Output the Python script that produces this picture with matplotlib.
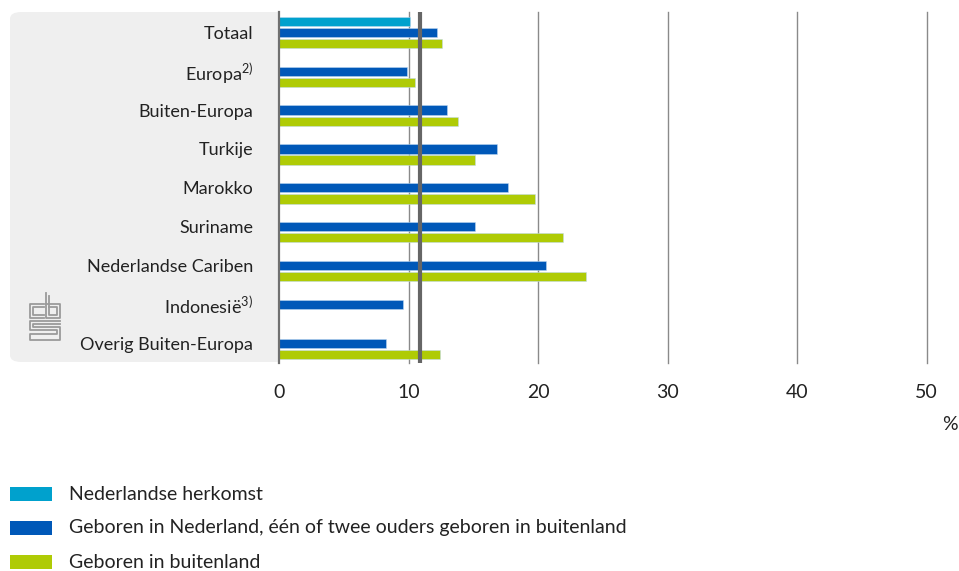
import matplotlib
matplotlib.use("Agg")
import matplotlib.pyplot as plt
from matplotlib.patches import FancyBboxPatch, Rectangle
import numpy as np

plt.rcParams['font.family'] = ['Lato', 'DejaVu Sans']
plt.rcParams['mathtext.fontset'] = 'custom'
plt.rcParams['mathtext.rm'] = 'Lato'

categories = ["Totaal", "Europa$^{\\mathrm{2)}}$", "Buiten-Europa", "Turkije", "Marokko",
              "Suriname", "Nederlandse Cariben", "Indonesië$^{\\mathrm{3)}}$", "Overig Buiten-Europa"]
nederlandse = [10.15, None, None, None, None, None, None, None, None]
geboren_nl = [12.2, 9.9, 13.0, 16.8, 17.7, 15.1, 20.6, 9.6, 8.3]
geboren_buitenland = [12.6, 10.5, 13.8, 15.1, 19.8, 21.9, 23.7, None, 12.4]
reference_value = 10.9
xticks = [0, 10, 20, 30, 40, 50]
series_labels = ["Nederlandse herkomst",
                 "Geboren in Nederland, één of twee ouders geboren in buitenland",
                 "Geboren in buitenland"]
colors = ["#00A1CD", "#0058B8", "#AFCB05"]

W, H = 959, 571
FS = 14
fig = plt.figure(figsize=(W / 100, H / 100), dpi=100)

# background panel
panel = FancyBboxPatch((10 / W, 1 - 362 / H), (279 - 10) / W, (362 - 12) / H,
                       boxstyle="round,pad=0,rounding_size=0.012",
                       transform=fig.transFigure, facecolor="#efefef", edgecolor="none", zorder=-2)
fig.patches.append(panel)
fig.patches.append(Rectangle((260 / W, 1 - 362 / H), 19 / W, (362 - 12) / H,
                             transform=fig.transFigure, facecolor="#efefef", edgecolor="none", zorder=-2))

ax = fig.add_axes([279 / W, 1 - 363 / H, (926.5 - 279) / W, (363 - 12) / H])
ax.set_facecolor("none")
ax.set_zorder(1)

y = np.arange(len(categories))
off = 0.285
h = 0.235
series = [nederlandse, geboren_nl, geboren_buitenland]
offsets = [-off, 0, off]
for vals, o, c in zip(series, offsets, colors):
    ys = [yy + o for yy, v in zip(y, vals) if v is not None]
    vs = [v for v in vals if v is not None]
    ax.barh(ys, vs, height=h, color=c, edgecolor=(0.75, 0.85, 0.95, 0.6), linewidth=0.6, zorder=3)

ax.set_xlim(0, 50)
ax.set_ylim(8.5, -0.52)
for xv in xticks[1:]:
    ax.axvline(xv, color="#8a8a8a", linewidth=1.0, zorder=1, clip_on=False)
ax.axvline(0, color="#707070", linewidth=1.6, zorder=4, clip_on=False)
ax.axvline(reference_value, color="#666666", linewidth=3.0, zorder=5)

for s in ax.spines.values():
    s.set_visible(False)
ax.set_xticks(xticks)
ax.set_xticklabels([str(t) for t in xticks], fontsize=FS, color="#222222")
ax.tick_params(axis="x", length=0, pad=15)
ax.set_yticks(y)
ax.set_yticklabels(categories, fontsize=13, color="#222222")
ax.tick_params(axis="y", length=0, pad=18.5)

fig.text(950 / W, 1 - 424 / H, "%", fontsize=FS, color="#222222", ha="center", va="center")

# legend
rows = [494, 528, 562]
for lab, c, ry in zip(series_labels, colors, rows):
    fig.patches.append(Rectangle((10 / W, 1 - (ry + 7) / H), 42 / W, 14 / H,
                                 transform=fig.transFigure, facecolor=c, edgecolor="none"))
    fig.text(69 / W, 1 - ry / H, lab, fontsize=FS, color="#222222", ha="left", va="center")

# cbs logo (approximation)
def fl(xs, ys, lw=1.3):
    fig.add_artist(plt.Line2D([x / W for x in xs], [1 - v / H for v in ys],
                              color="#9a9a9a", linewidth=lw, transform=fig.transFigure))
fl([44, 30, 30, 44], [304, 304, 318, 318])
fl([44, 33, 33, 44], [307, 307, 315, 315])
fl([46, 46, 60, 60, 46], [293, 318, 318, 304, 304])
fl([49, 49, 57, 57, 49], [296, 315, 315, 307, 307])
fl([60, 30, 30, 57, 57, 30, 30, 60, 60, 33, 33, 60], [321, 321, 330, 330, 334, 334, 340, 340, 327, 327, 324, 324])

fig.savefig("out.png", dpi=100)
